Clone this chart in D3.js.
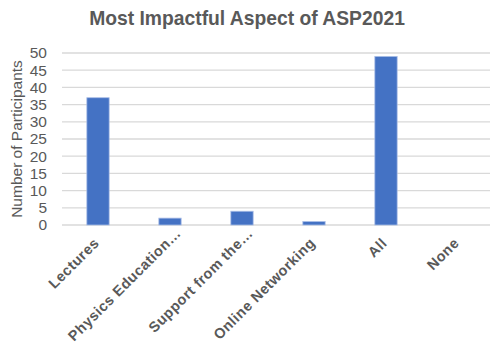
<!DOCTYPE html>
<html>
<head>
<meta charset="utf-8">
<script src="https://cdn.jsdelivr.net/npm/d3@7"></script>
<style>
  html, body { margin: 0; padding: 0; background: #fff; }
  svg { display: block; font-family: "Liberation Sans", Arial, sans-serif; }
</style>
</head>
<body>
<svg id="chart" width="490" height="347"></svg>
<script>
// Survey responses: most impactful aspect of ASP2021
const categories = ["Lectures", "Physics Education\u2026", "Support from the\u2026", "Online Networking", "All", "None"];
const counts = [37, 2, 4, 1, 49, 0];
const yTicks = [0, 5, 10, 15, 20, 25, 30, 35, 40, 45, 50];

const width = 490, height = 347;
const margin = { top: 53, right: -4, bottom: 122, left: 62 };
const textColor = "#595959";

const svg = d3.select("#chart");

const x = d3.scaleBand()
  .domain(categories)
  .range([margin.left, width - margin.right])
  .paddingInner(0.69)
  .paddingOuter(0.345);

const y = d3.scaleLinear()
  .domain([0, 50])
  .range([height - margin.bottom, margin.top]);

// Title
svg.append("text")
  .attr("x", 247)
  .attr("y", 25)
  .attr("text-anchor", "middle")
  .attr("font-size", 19.3)
  .attr("font-weight", "bold")
  .attr("fill", textColor)
  .text("Most Impactful Aspect of ASP2021");

// Horizontal gridlines
svg.append("g")
  .selectAll("line")
  .data(yTicks)
  .join("line")
  .attr("x1", margin.left)
  .attr("x2", width)
  .attr("y1", d => y(d))
  .attr("y2", d => y(d))
  .attr("stroke", "#d9d9d9")
  .attr("stroke-width", 1.3);

// Y axis labels
const yAxis = d3.axisLeft(y).tickValues(yTicks).tickSize(0).tickPadding(0);
const yG = svg.append("g")
  .attr("transform", `translate(${margin.left - 15},0)`)
  .call(yAxis);
yG.select(".domain").remove();
yG.selectAll("text")
  .attr("font-size", 15.5)
  .attr("font-family", "Liberation Sans, Arial, sans-serif")
  .attr("fill", textColor);

// Y axis title
svg.append("text")
  .attr("transform", `translate(22,${(y(0) + y(50)) / 2}) rotate(-90)`)
  .attr("text-anchor", "middle")
  .attr("font-size", 15.5)
  .attr("fill", textColor)
  .text("Number of Participants");

// Bars
svg.append("g")
  .selectAll("rect")
  .data(counts)
  .join("rect")
  .attr("x", (d, i) => x(categories[i]))
  .attr("width", x.bandwidth())
  .attr("y", d => y(d))
  .attr("height", d => y(0) - y(d))
  .attr("fill", "#4472c4")
  .attr("stroke", "#a9bde6")
  .attr("stroke-width", 0.8);

// X axis labels, rotated; truncated labels sit a little further along their baseline
svg.append("g")
  .selectAll("text")
  .data(categories)
  .join("text")
  .attr("transform", d => `translate(${x(d) + x.bandwidth() / 2 + 2},${y(0) + 19}) rotate(-45)`)
  .attr("dx", d => d.endsWith("\u2026") ? 14 : 0)
  .attr("text-anchor", "end")
  .attr("font-size", 14.5)
  .attr("letter-spacing", 0.5)
  .attr("font-weight", "bold")
  .attr("fill", textColor)
  .text(d => d);
</script>
</body>
</html>
